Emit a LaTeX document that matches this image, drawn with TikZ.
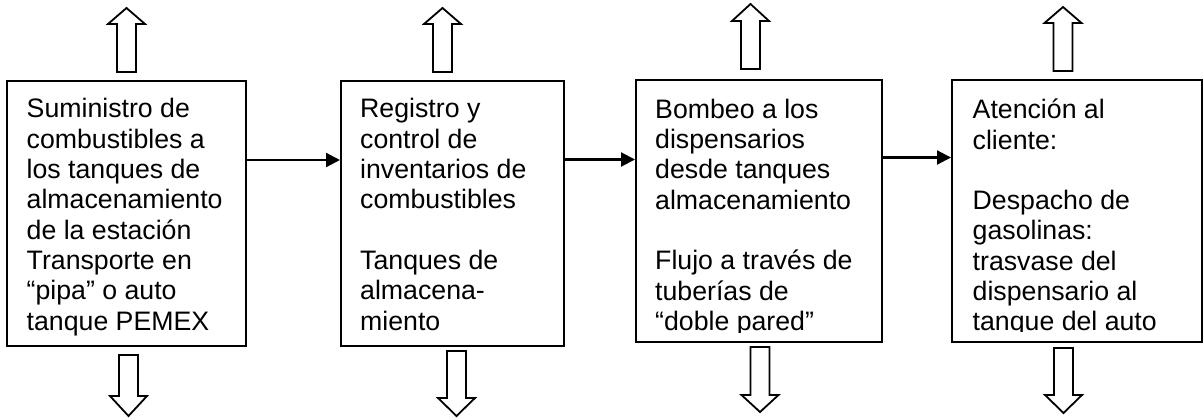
\documentclass[tikz,border=0pt]{standalone}
\usepackage{fontspec}
\setmainfont{Liberation Sans}
\usetikzlibrary{arrows.meta}
\begin{document}
\begin{tikzpicture}[x=1pt,y=-1pt,
  boxst/.style={draw, line width=2pt, inner sep=0pt, fill=white},
  txt/.style={anchor=north west, inner sep=0pt, align=left, font=\fontsize{26.7}{30.3}\selectfont},
  conn/.style={line width=2.2pt, -{Triangle[length=14pt,width=14pt]}},
  hollow/.style={draw, line width=1.8pt, fill=white, line join=miter},
  pics/uparr/.style 2 args={code={
    \draw[hollow] (-9.5,0) -- (-9.5,-#1) -- (-18.5,-#1) -- (0,-#1-#2) -- (18.5,-#1) -- (9.5,-#1) -- (9.5,0) -- cycle;}},
  pics/downarr/.style 2 args={code={
    \draw[hollow] (-9.5,0) -- (-9.5,#1) -- (-18.5,#1) -- (0,#1+#2) -- (18.5,#1) -- (9.5,#1) -- (9.5,0) -- cycle;}}
]
\useasboundingbox (0,0) rectangle (1204,420);

% boxes
\node[boxst, minimum width=239, minimum height=265] (b1) at (126.5,213.5) {};
\node[boxst, minimum width=223, minimum height=265] (b2) at (452.5,213.5) {};
\node[boxst, minimum width=246, minimum height=262] (b3) at (759,211) {};
\node[boxst, minimum width=250, minimum height=262] (b4) at (1077,211) {};

% texts
\node[txt] (t1) at (26.5,95.7) {\rule{0pt}{22pt}Suministro de\\combustibles a\\los tanques de\\almacenamiento\\de la estación\\Transporte en\\“pipa” o auto\\tanque PEMEX};
\node[txt] (t2) at (360,95.7) {\rule{0pt}{22pt}Registro y\\control de\\inventarios de\\combustibles\\[30.3pt]Tanques de\\almacena-\\miento};
\begin{scope}
  \clip (636,80) rectangle (882,332.3);
  \node[txt] (t3) at (655,96) {\rule{0pt}{22pt}Bombeo a los\\dispensarios\\desde tanques\\almacenamiento\\[30.3pt]Flujo a través de\\tuberías de\\“doble pared”};
\end{scope}
\begin{scope}
  \clip (952,80) rectangle (1203,331.7);
  \node[txt] (t4) at (972.5,96.5) {\rule{0pt}{22pt}Atención al\\cliente:\\[30.3pt]Despacho de\\gasolinas:\\trasvase del\\dispensario al\\tanque del auto};
\end{scope}

% connectors
\draw[conn] ([yshift=53.5pt]b1.east) -- ([yshift=53.5pt]b2.west);
\draw[conn] ([yshift=54pt]b2.east) -- ([yshift=51.5pt]b3.west);
\draw[conn] ([yshift=53.5pt]b3.east) -- ([yshift=53.5pt]b4.west);

% hollow block arrows
\pic at (126.5,72) {uparr={48}{16}};
\pic at (442.5,72) {uparr={48}{16}};
\pic at (750.5,69) {uparr={48}{17}};
\pic at (1063,71) {uparr={48}{16}};
\pic at (128.5,355) {downarr={41}{20}};
\pic at (456.5,351) {downarr={47}{18}};
\pic at (760,347) {downarr={48}{17}};
\pic at (1063.5,348) {downarr={47}{18}};
\end{tikzpicture}
\end{document}
